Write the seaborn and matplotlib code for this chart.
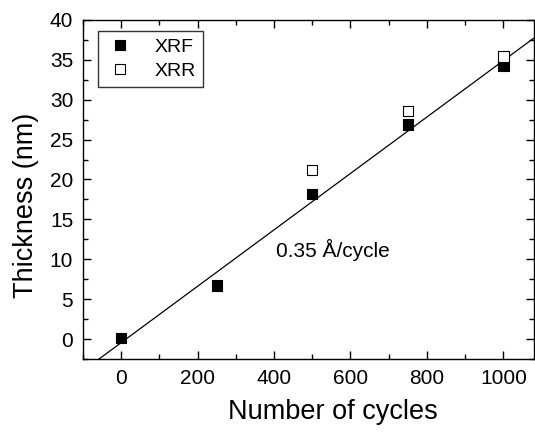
import numpy as np
import pandas as pd
import seaborn as sns
import matplotlib.pyplot as plt
from matplotlib.ticker import MultipleLocator

# data
xrf_cycles = [0, 250, 500, 750, 1000]
xrf_thickness = [0.1, 6.7, 18.2, 26.9, 34.2]
xrr_cycles = [500, 750, 1000]
xrr_thickness = [21.2, 28.6, 35.4]

sns.set_style("ticks", {"text.color": "black", "axes.labelcolor": "black",
                        "xtick.color": "black", "ytick.color": "black",
                        "axes.edgecolor": "black"})
plt.rcParams['font.family'] = ['Liberation Sans', 'DejaVu Sans']

df = pd.concat([
    pd.DataFrame({"cycles": xrf_cycles, "thickness": xrf_thickness, "method": "XRF"}),
    pd.DataFrame({"cycles": xrr_cycles, "thickness": xrr_thickness, "method": "XRR"}),
])

fig = plt.figure(figsize=(5.35, 4.33), dpi=100)
ax = fig.add_axes([0.155, 0.171, 0.843, 0.783])

xlim = (-100, 1080)
ylim = (-2.5, 40)

# linear fit through the XRF points
slope, intercept = np.polyfit(xrf_cycles, xrf_thickness, 1)
xs = np.array(xlim)
ax.plot(xs, slope * xs + intercept, color="black", lw=0.9, zorder=1)

sns.scatterplot(data=df, x="cycles", y="thickness", hue="method", style="method",
                markers={"XRF": "s", "XRR": "s"},
                palette={"XRF": "black", "XRR": "white"},
                edgecolor="black", linewidth=0.8, s=55, ax=ax, zorder=3)

ax.set_xlim(*xlim)
ax.set_ylim(*ylim)
ax.xaxis.set_major_locator(MultipleLocator(200))
ax.xaxis.set_minor_locator(MultipleLocator(100))
ax.yaxis.set_major_locator(MultipleLocator(5))
ax.yaxis.set_minor_locator(MultipleLocator(2.5))
ax.tick_params(which="both", direction="in", top=True, right=True,
               labeltop=False, labelright=False, width=1, color="black",
               labelcolor="black")
ax.tick_params(which="major", length=6, labelsize=15, pad=7)
ax.tick_params(which="minor", length=3.5)
for sp in ax.spines.values():
    sp.set_linewidth(1)
    sp.set_color("black")
    sp.set_visible(True)

ax.set_xlabel("Number of cycles", fontsize=19.5, color="black")
ax.set_ylabel("Thickness (nm)", fontsize=19.5, color="black")
ax.xaxis.set_label_coords(0.554, -0.118)
ax.yaxis.set_label_coords(-0.098, 0.454)

ax.text(555, 11.2, "0.35 Å/cycle", fontsize=15, ha="center", va="center", color="black")

leg = ax.legend(loc="upper left", bbox_to_anchor=(0.033, 0.968), borderaxespad=0,
                fontsize=14, frameon=True, fancybox=False, handletextpad=1.0,
                borderpad=0.4, labelspacing=0.3, handlelength=1.5)
leg.get_frame().set_edgecolor("black")
leg.get_frame().set_linewidth(1)
leg.set_title(None)
for t in leg.get_texts():
    t.set_color("black")

fig.savefig("out.png", dpi=100)
